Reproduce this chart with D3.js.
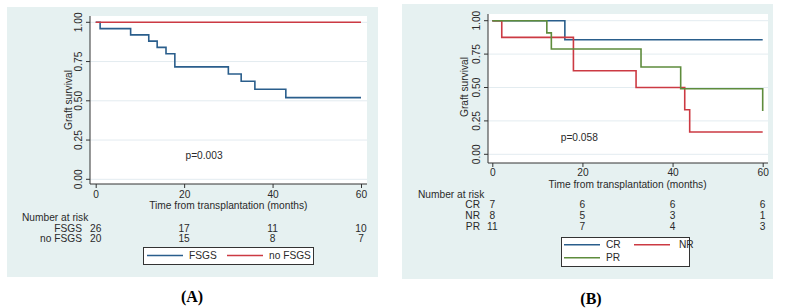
<!DOCTYPE html>
<html>
<head>
<meta charset="utf-8">
<script src="https://cdn.jsdelivr.net/npm/d3@7"></script>
<style>
  body { margin: 0; background: #fff; }
  svg text { font-family: "Liberation Sans", Arial, sans-serif; fill: #2a2a2a; }
</style>
</head>
<body>
<svg id="chart" width="785" height="308"></svg>
<script>
// ---- data ----
var timeTicks = [0, 20, 40, 60];
var survTicks = [0, 0.25, 0.5, 0.75, 1];

// panel A: [months, survival]
var fsgsSteps = [[0, 1], [1, 0.96], [7.9, 0.92], [12, 0.88], [13.9, 0.84], [15.9, 0.80],
                 [17.9, 0.716], [30, 0.671], [32.9, 0.625], [36, 0.574], [43, 0.52], [60, 0.52]];
var noFsgsSteps = [[0, 1], [60, 1]];
var riskLabelsA = ["FSGS", "no FSGS"];
var riskA = [[26, 17, 11, 10], [20, 15, 8, 7]];

// panel B
var crSteps = [[0, 1], [16.1, 0.857], [60, 0.857]];
var nrSteps = [[0, 1], [2.1, 0.875], [18, 0.625], [31.9, 0.5], [42.7, 0.333], [43.8, 0.167], [60, 0.167]];
var prSteps = [[0, 1], [12.1, 0.909], [13.1, 0.788], [33, 0.653], [41.8, 0.491], [60, 0.324]];
var riskLabelsB = ["CR", "NR", "PR"];
var riskB = [[7, 6, 6, 6], [8, 5, 3, 1], [11, 7, 4, 3]];

var blue = "#2a5e8c", red = "#cc3a43", green = "#5e8c3c";
var fs = "10.2px";

var svg = d3.select("#chart");

function drawPanel(p) {
    var g = svg.append("g");
    // outer light background
    g.append("rect").attr("x", p.bg[0]).attr("y", p.bg[1])
        .attr("width", p.bg[2] - p.bg[0]).attr("height", p.bg[3] - p.bg[1])
        .attr("fill", "#e6f1f1");
    // white plot region
    g.append("rect").attr("x", p.plot[0]).attr("y", p.plot[1])
        .attr("width", p.plot[2] - p.plot[0]).attr("height", p.plot[3] - p.plot[1])
        .attr("fill", "#fff");

    var x = d3.scaleLinear().domain([0, 60]).range(p.xr);
    var y = d3.scaleLinear().domain([0, 1]).range(p.yr);

    // grid
    g.selectAll(".grid").data(survTicks).enter().append("line")
        .attr("x1", p.plot[0]).attr("x2", p.plot[2])
        .attr("y1", function (d) { return y(d); }).attr("y2", function (d) { return y(d); })
        .attr("stroke", "#e3ecf0").attr("stroke-width", 1);

    // axes
    var yAxis = d3.axisLeft(y).tickValues(survTicks).tickFormat(d3.format(".2f")).tickSize(4).tickSizeOuter(0);
    var ya = g.append("g").attr("transform", "translate(" + p.plot[0] + ",0)").call(yAxis);
    ya.select(".domain").attr("d", "M0," + p.plot[1] + "V" + p.plot[3]);
    ya.selectAll(".tick").attr("transform", null);
    ya.selectAll(".tick line").attr("y1", function (d) { return y(d); }).attr("y2", function (d) { return y(d); });
    ya.selectAll("text")
        .attr("x", 0).attr("dy", 0).attr("y", -6)
        .style("text-anchor", "middle").style("font-size", fs)
        .attr("transform", function (d) { return "translate(-2," + y(d) + ") rotate(-90)"; });

    var xAxis = d3.axisBottom(x).tickValues(timeTicks).tickSize(4).tickSizeOuter(0);
    var xa = g.append("g").attr("transform", "translate(0," + p.plot[3] + ")").call(xAxis);
    xa.select(".domain").attr("d", "M" + p.plot[0] + ",0H" + p.plot[2]);
    xa.selectAll("text").style("font-size", fs).attr("dy", 0).attr("y", p.xtickOff);
    g.selectAll(".domain, .tick line").attr("stroke", "#333");

    g.append("text").attr("x", p.ytitle[0]).attr("y", p.ytitle[1])
        .attr("transform", "rotate(-90," + p.ytitle[0] + "," + p.ytitle[1] + ")")
        .attr("text-anchor", "middle").style("font-size", fs).text("Graft survival");
    g.append("text").attr("x", (p.xr[0] + p.xr[1]) / 2).attr("y", p.xtitleY)
        .attr("text-anchor", "middle").style("font-size", fs).text("Time from transplantation (months)");

    // survival curves
    var line = d3.line().x(function (d) { return x(d[0]); }).y(function (d) { return y(d[1]); })
        .curve(d3.curveStepAfter);
    p.series.forEach(function (s) {
        g.append("path").datum(s.data).attr("d", line)
            .attr("fill", "none").attr("stroke", s.color).attr("stroke-width", 1.6);
    });

    g.append("text").attr("x", x(p.pval[0])).attr("y", y(p.pval[1]))
        .attr("text-anchor", "middle").attr("dy", "0.35em").style("font-size", fs).text(p.pval[2]);

    // number at risk table
    g.append("text").attr("x", p.riskX).attr("y", p.riskY).style("font-size", fs).text("Number at risk");
    p.riskLabels.forEach(function (lab, i) {
        var ry = p.riskY + (i + 1) * p.riskStep;
        g.append("text").attr("x", p.riskLabX).attr("y", ry).attr("text-anchor", "end")
            .style("font-size", fs).text(lab);
        g.selectAll(".risk" + i).data(p.risk[i]).enter().append("text")
            .attr("x", function (d, j) { return x(timeTicks[j]); }).attr("y", ry)
            .attr("text-anchor", "middle").style("font-size", fs).text(function (d) { return d; });
    });

    // legend
    var lb = p.legend.box;
    g.append("rect").attr("x", lb[0] + 0.5).attr("y", lb[1] + 0.5).attr("width", lb[2] - lb[0])
        .attr("height", lb[3] - lb[1]).attr("fill", "#fff").attr("stroke", "#333").attr("stroke-width", 1);
    p.legend.items.forEach(function (it) {
        g.append("line").attr("x1", it.x).attr("x2", it.x + 36).attr("y1", it.y).attr("y2", it.y)
            .attr("stroke", it.color).attr("stroke-width", 1.6);
        g.append("text").attr("x", it.tx).attr("y", it.y).attr("dy", "0.35em")
            .style("font-size", fs).text(it.label);
    });

    // panel letter
    g.append("text").attr("x", p.letter[0]).attr("y", p.letter[1]).attr("text-anchor", "middle")
        .style("font-family", "'Liberation Serif', 'Times New Roman', serif").style("font-weight", "bold")
        .style("font-size", "16px").style("fill", "#000").text(p.letter[2]);
}

drawPanel({
    bg: [7, 7, 378, 277], plot: [90, 16, 367, 184],
    xr: [95.7, 361], yr: [179.3, 22.3],
    ytitle: [72, 100], xtitleY: 209, xtickOff: 13.5,
    series: [{ data: fsgsSteps, color: blue }, { data: noFsgsSteps, color: red }],
    pval: [24.5, 0.155, "p=0.003"],
    riskX: 22, riskY: 221, riskStep: 10.5, riskLabX: 82, riskLabels: riskLabelsA, risk: riskA,
    legend: { box: [143, 247, 313, 264], items: [
        { x: 147, tx: 189, y: 255.5, color: blue, label: "FSGS" },
        { x: 227, tx: 269, y: 255.5, color: red, label: "no FSGS" }] },
    letter: [192, 302, "(A)"]
});

drawPanel({
    bg: [402, 4, 773, 279], plot: [488, 14, 768, 163],
    xr: [492.3, 762.7], yr: [154.3, 20.7],
    ytitle: [468, 87], xtitleY: 187.5, xtickOff: 12.5,
    series: [{ data: crSteps, color: blue }, { data: nrSteps, color: red }, { data: prSteps, color: green }],
    pval: [19.3, 0.13, "p=0.058"],
    riskX: 418, riskY: 197.5, riskStep: 10.8, riskLabX: 480, riskLabels: riskLabelsB, risk: riskB,
    legend: { box: [561, 237, 689, 266], items: [
        { x: 564, tx: 606, y: 244.7, color: blue, label: "CR" },
        { x: 634, tx: 679, y: 244.7, color: red, label: "NR" },
        { x: 564, tx: 606, y: 257.7, color: green, label: "PR" }] },
    letter: [591, 304, "(B)"]
});
</script>
</body>
</html>
